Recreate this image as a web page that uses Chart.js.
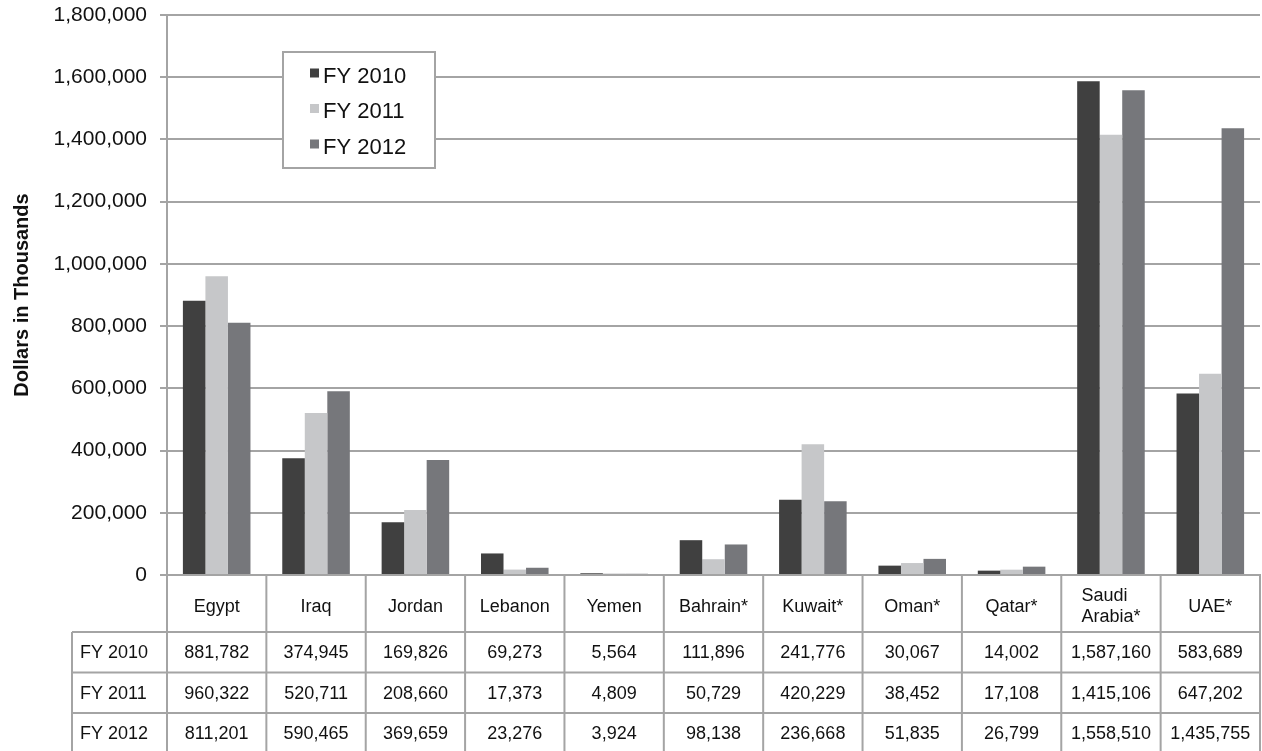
<!DOCTYPE html>
<html>
<head>
<meta charset="utf-8">
<script src="https://cdn.jsdelivr.net/npm/chart.js@4"></script>
<style>
  html, body { margin: 0; padding: 0; background: #fff; }
  #wrap { width: 1262px; height: 751px; }
</style>
</head>
<body>
<div id="wrap"><canvas id="myChart" width="1262" height="751"></canvas></div>
<script>
// countries and yearly totals (dollars in thousands)
const countries = ['Egypt', 'Iraq', 'Jordan', 'Lebanon', 'Yemen', 'Bahrain*', 'Kuwait*', 'Oman*', 'Qatar*', ['Saudi', 'Arabia*'], 'UAE*'];
const fyLabels = ['FY 2010', 'FY 2011', 'FY 2012'];
const fy2010 = [881782, 374945, 169826, 69273, 5564, 111896, 241776, 30067, 14002, 1587160, 583689];
const fy2011 = [960322, 520711, 208660, 17373, 4809, 50729, 420229, 38452, 17108, 1415106, 647202];
const fy2012 = [811201, 590465, 369659, 23276, 3924, 98138, 236668, 51835, 26799, 1558510, 1435755];
const fyColors = ['#404040', '#c6c7c9', '#76777b'];

const FONT = '"Liberation Sans", Arial, Helvetica, sans-serif';
const lineColor = '#a4a4a4';
const fmt = v => v.toLocaleString('en-US');

// floating legend box inside the plot
const boxLegend = {
    id: 'boxLegend',
    afterDatasetsDraw(chart) {
        const ctx = chart.ctx;
        const a = chart.chartArea;
        const bx = a.left + 116, by = a.top + 37, bw = 152, bh = 116;
        ctx.save();
        ctx.fillStyle = '#fff';
        ctx.fillRect(bx, by, bw, bh);
        ctx.strokeStyle = lineColor;
        ctx.lineWidth = 2;
        ctx.strokeRect(bx, by, bw, bh);
        ctx.font = '22px ' + FONT;
        ctx.textBaseline = 'middle';
        chart.data.datasets.forEach((ds, i) => {
            const cy = by + 23.5 + i * 35.5;
            ctx.fillStyle = ds.backgroundColor;
            ctx.fillRect(bx + 27, cy - 7, 9, 9);
            ctx.fillStyle = '#111';
            ctx.fillText(ds.label, bx + 40, cy + 1);
        });
        ctx.restore();
    }
};

// data table under the x axis, columns follow the category scale
const dataTable = {
    id: 'dataTable',
    afterDraw(chart) {
        const ctx = chart.ctx;
        const a = chart.chartArea;
        const xs = chart.scales.x;
        const n = countries.length;
        const colW = (a.right - a.left) / n;
        const top = a.bottom;
        const headH = 57, rowH = 40.5;
        const tableLeft = a.left - 95;
        const bottom = chart.height + 2;
        const rows = [fy2010, fy2011, fy2012];

        ctx.save();
        ctx.strokeStyle = lineColor;
        ctx.lineWidth = 2;
        ctx.beginPath();
        for (let i = 0; i <= n; i++) {
            const x = a.left + i * colW;
            ctx.moveTo(x, top);
            ctx.lineTo(x, bottom);
        }
        ctx.moveTo(tableLeft, top + headH);
        ctx.lineTo(tableLeft, bottom);
        for (let r = 0; r < 3; r++) {
            const y = top + headH + r * rowH;
            ctx.moveTo(tableLeft, y);
            ctx.lineTo(a.right, y);
        }
        ctx.stroke();

        ctx.fillStyle = '#111';
        ctx.font = '18px ' + FONT;
        ctx.textBaseline = 'middle';

        // category names
        countries.forEach((c, i) => {
            const cx = xs.getPixelForValue(i);
            if (Array.isArray(c)) {
                const w = Math.max(...c.map(s => ctx.measureText(s).width));
                ctx.textAlign = 'left';
                c.forEach((s, k) => ctx.fillText(s, cx - w / 2, top + 21 + k * 21));
            } else {
                ctx.textAlign = 'center';
                ctx.fillText(c, cx, top + 32);
            }
        });

        // year rows
        rows.forEach((vals, r) => {
            const cy = top + headH + r * rowH + rowH / 2 + 1;
            ctx.textAlign = 'left';
            ctx.fillText(fyLabels[r], tableLeft + 8, cy);
            ctx.textAlign = 'center';
            vals.forEach((v, i) => ctx.fillText(fmt(v), xs.getPixelForValue(i), cy));
        });
        ctx.restore();
    }
};

const config = {
    type: 'bar',
    data: {
        labels: countries,
        datasets: [
            { label: fyLabels[0], data: fy2010, backgroundColor: fyColors[0] },
            { label: fyLabels[1], data: fy2011, backgroundColor: fyColors[1] },
            { label: fyLabels[2], data: fy2012, backgroundColor: fyColors[2] }
        ]
    },
    options: {
        responsive: false,
        animation: false,
        devicePixelRatio: 1,
        layout: { padding: { top: 15, bottom: 176, left: 0, right: 2 } },
        datasets: {
            bar: { categoryPercentage: 0.68, barPercentage: 1.0, borderWidth: 0 }
        },
        plugins: {
            legend: { display: false },
            tooltip: { enabled: false }
        },
        scales: {
            x: {
                ticks: { display: false },
                grid: { display: false, drawTicks: false },
                border: { display: true, color: lineColor, width: 2 }
            },
            y: {
                min: 0,
                max: 1800000,
                ticks: {
                    stepSize: 200000,
                    padding: 13,
                    color: '#111',
                    font: { family: FONT, size: 21 },
                    callback: v => fmt(v)
                },
                grid: { color: lineColor, lineWidth: 2, tickLength: 7 },
                border: { display: true, color: lineColor, width: 2 },
                title: {
                    display: true,
                    text: 'Dollars in Thousands',
                    color: '#111',
                    font: { family: FONT, size: 20, weight: 'bold' },
                    padding: { top: 10, bottom: 0 }
                },
                afterFit(scale) {
                    scale.width = 167;
                    scale.paddingTop = 0;
                    scale.paddingBottom = 0;
                }
            }
        }
    },
    plugins: [boxLegend, dataTable]
};

const myChart = new Chart(document.getElementById('myChart'), config);
</script>
</body>
</html>
